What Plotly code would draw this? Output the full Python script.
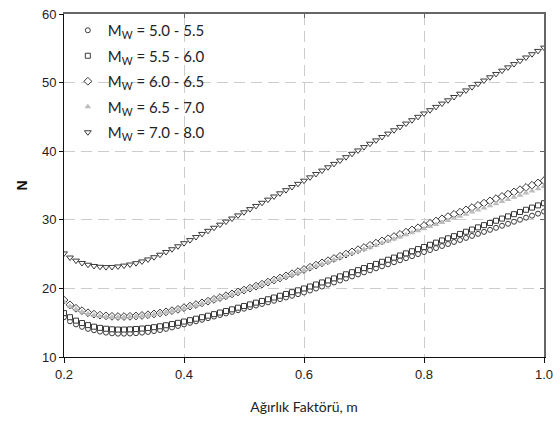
import plotly.graph_objects as go

m = [0.20, 0.21, 0.22, 0.23, 0.24, 0.25, 0.26, 0.27, 0.28, 0.29,
     0.30, 0.31, 0.32, 0.33, 0.34, 0.35, 0.36, 0.37, 0.38, 0.39,
     0.40, 0.41, 0.42, 0.43, 0.44, 0.45, 0.46, 0.47, 0.48, 0.49,
     0.50, 0.51, 0.52, 0.53, 0.54, 0.55, 0.56, 0.57, 0.58, 0.59,
     0.60, 0.61, 0.62, 0.63, 0.64, 0.65, 0.66, 0.67, 0.68, 0.69,
     0.70, 0.71, 0.72, 0.73, 0.74, 0.75, 0.76, 0.77, 0.78, 0.79,
     0.80, 0.81, 0.82, 0.83, 0.84, 0.85, 0.86, 0.87, 0.88, 0.89,
     0.90, 0.91, 0.92, 0.93, 0.94, 0.95, 0.96, 0.97, 0.98, 0.99,
     1.00]

n_50_55 = [15.8, 15.2, 14.75, 14.4, 14.1, 13.9, 13.7, 13.55, 13.45, 13.4,
           13.4, 13.42, 13.47, 13.55, 13.65, 13.78, 13.93, 14.1, 14.3, 14.52,
           14.75, 14.98, 15.2, 15.43, 15.66, 15.89, 16.12, 16.35, 16.58, 16.81,
           17.04, 17.27, 17.5, 17.73, 17.96, 18.2, 18.44, 18.68, 18.92, 19.16,
           19.4, 19.69, 19.98, 20.27, 20.56, 20.86, 21.15, 21.45, 21.74, 22.04,
           22.33, 22.63, 22.92, 23.22, 23.51, 23.81, 24.1, 24.4, 24.7, 25.0,
           25.3, 25.59, 25.88, 26.18, 26.47, 26.77, 27.06, 27.36, 27.65, 27.95,
           28.24, 28.54, 28.83, 29.13, 29.42, 29.72, 30.01, 30.31, 30.6, 30.9,
           31.2]

n_55_60 = [16.4, 15.8, 15.3, 14.95, 14.65, 14.42, 14.25, 14.12, 14.04, 14.0,
           14.0, 14.03, 14.08, 14.15, 14.24, 14.35, 14.48, 14.63, 14.8, 14.98,
           15.17, 15.37, 15.58, 15.8, 16.02, 16.25, 16.48, 16.71, 16.95, 17.19,
           17.43, 17.67, 17.92, 18.17, 18.42, 18.67, 18.93, 19.19, 19.45, 19.72,
           19.99, 20.28, 20.57, 20.87, 21.16, 21.46, 21.76, 22.06, 22.36, 22.66,
           22.96, 23.27, 23.57, 23.88, 24.18, 24.49, 24.8, 25.11, 25.42, 25.73,
           26.04, 26.36, 26.67, 26.99, 27.3, 27.62, 27.94, 28.26, 28.58, 28.9,
           29.22, 29.54, 29.86, 30.18, 30.5, 30.82, 31.14, 31.46, 31.78, 32.1,
           32.42]

n_60_65 = [18.3, 17.6, 17.1, 16.75, 16.45, 16.25, 16.1, 16.0, 15.93, 15.9,
           15.9, 15.93, 15.98, 16.06, 16.16, 16.28, 16.42, 16.58, 16.76, 16.95,
           17.2, 17.42, 17.65, 17.89, 18.14, 18.4, 18.66, 18.93, 19.2, 19.48,
           19.76, 20.04, 20.33, 20.62, 20.92, 21.22, 21.52, 21.83, 22.14, 22.45,
           22.76, 23.08, 23.4, 23.72, 24.04, 24.36, 24.68, 25.0, 25.32, 25.64,
           25.96, 26.28, 26.6, 26.92, 27.24, 27.56, 27.88, 28.2, 28.52, 28.84,
           29.16, 29.49, 29.82, 30.14, 30.47, 30.8, 31.12, 31.45, 31.78, 32.1,
           32.43, 32.76, 33.08, 33.41, 33.74, 34.06, 34.39, 34.72, 35.04, 35.37,
           35.7]

n_65_70 = [18.0, 17.4, 16.95, 16.6, 16.3, 16.1, 15.95, 15.86, 15.8, 15.78,
           15.79, 15.83, 15.89, 15.97, 16.08, 16.21, 16.36, 16.53, 16.71, 16.9,
           17.11, 17.33, 17.56, 17.8, 18.05, 18.31, 18.57, 18.84, 19.11, 19.39,
           19.67, 19.95, 20.24, 20.53, 20.82, 21.12, 21.42, 21.72, 22.02, 22.33,
           22.63, 22.94, 23.25, 23.56, 23.86, 24.17, 24.47, 24.78, 25.08, 25.39,
           25.69, 26.0, 26.3, 26.6, 26.9, 27.2, 27.5, 27.81, 28.11, 28.41,
           28.71, 29.01, 29.31, 29.61, 29.91, 30.21, 30.52, 30.82, 31.12, 31.43,
           31.73, 32.04, 32.35, 32.66, 32.97, 33.28, 33.59, 33.9, 34.21, 34.53,
           34.85]

n_70_80 = [25.1, 24.5, 24.05, 23.7, 23.45, 23.27, 23.15, 23.1, 23.12, 23.2,
           23.32, 23.48, 23.68, 23.93, 24.22, 24.55, 24.91, 25.3, 25.71, 26.14,
           26.59, 27.04, 27.49, 27.94, 28.39, 28.84, 29.29, 29.74, 30.19, 30.64,
           31.1, 31.56, 32.02, 32.48, 32.94, 33.4, 33.86, 34.32, 34.78, 35.24,
           35.7, 36.19, 36.68, 37.17, 37.66, 38.15, 38.64, 39.13, 39.62, 40.11,
           40.6, 41.09, 41.58, 42.07, 42.56, 43.05, 43.54, 44.03, 44.52, 45.01,
           45.5, 45.98, 46.46, 46.94, 47.42, 47.9, 48.38, 48.86, 49.34, 49.82,
           50.3, 50.78, 51.26, 51.74, 52.22, 52.7, 53.18, 53.66, 54.14, 54.62,
           55.1]

series_names = ["M<sub>W</sub> = 5.0 - 5.5", "M<sub>W</sub> = 5.5 - 6.0",
                "M<sub>W</sub> = 6.0 - 6.5", "M<sub>W</sub> = 6.5 - 7.0",
                "M<sub>W</sub> = 7.0 - 8.0"]
series_values = [n_50_55, n_55_60, n_60_65, n_65_70, n_70_80]

x_ticks = [0.2, 0.4, 0.6, 0.8, 1.0]
x_tick_labels = ["0.2", "0.4", "0.6", "0.8", "1.0"]
y_ticks = [10, 20, 30, 40, 50, 60]

styles = [
    dict(symbol="circle", size=5, color="white", line=dict(color="#3a3a3a", width=1)),
    dict(symbol="square", size=5, color="white", line=dict(color="#3a3a3a", width=1)),
    dict(symbol="diamond", size=6, color="white", line=dict(color="#3a3a3a", width=1)),
    dict(symbol="triangle-up", size=6, color="#bdbdbd", line=dict(color="#bdbdbd", width=0)),
    dict(symbol="triangle-down", size=6, color="white", line=dict(color="#3a3a3a", width=1)),
]

fig = go.Figure()
for i, (name, vals, st) in enumerate(zip(series_names, series_values, styles)):
    fig.add_trace(go.Scatter(x=m, y=vals, mode="markers", name=name,
                             legendgroup="g%d" % i, marker=st))

# invisible trace to host mirrored inside ticks on top/right
fig.add_trace(go.Scatter(x=m, y=n_50_55, mode="markers", xaxis="x2", yaxis="y2",
                         marker=dict(opacity=0), showlegend=False, hoverinfo="skip"))

tick_font = dict(family="Liberation Sans, Arial", size=13, color="#222222")

fig.update_layout(
    width=560, height=423,
    margin=dict(l=64, r=10, t=7, b=66),
    paper_bgcolor="white", plot_bgcolor="white",
    showlegend=True,
    legend=dict(x=0.008, y=1.0, xanchor="left", yanchor="top",
                bgcolor="rgba(0,0,0,0)", borderwidth=0,
                font=dict(family="Lato", size=15, color="#222222"),
                tracegroupgap=3, itemwidth=30),
    xaxis=dict(range=[0.2, 1.0], tickvals=x_ticks, ticktext=x_tick_labels,
               showgrid=True, gridcolor="#cccccc", griddash="11px,6px", gridwidth=1,
               zeroline=False, showline=True, linecolor="#111111", linewidth=1,
               ticks="outside", ticklen=5, tickcolor="#111111",
               tickfont=tick_font, ticklabeloverflow="allow",
               title=dict(text="Ağırlık Faktörü, m",
                          font=dict(family="Lato", size=14, color="#222222"),
                          standoff=21)),
    yaxis=dict(range=[10, 60], tickvals=y_ticks,
               showgrid=True, gridcolor="#cccccc", griddash="11px,6px", gridwidth=1,
               zeroline=False, showline=True, linecolor="#111111", linewidth=1,
               ticks="outside", ticklen=4, tickcolor="#111111",
               tickfont=tick_font, ticklabeloverflow="allow",
               title=dict(text="<b>N</b>",
                          font=dict(family="Liberation Sans, Arial", size=14, color="#111111"),
                          standoff=11)),
    xaxis2=dict(range=[0.2, 1.0], tickvals=x_ticks, overlaying="x", side="top",
                showgrid=False, zeroline=False, showline=True, linecolor="#666666",
                linewidth=2, ticks="inside", ticklen=4, tickcolor="#666666",
                showticklabels=False),
    yaxis2=dict(range=[10, 60], tickvals=y_ticks, overlaying="y", side="right",
                showgrid=False, zeroline=False, showline=True, linecolor="#666666",
                linewidth=2, ticks="inside", ticklen=4, tickcolor="#666666",
                showticklabels=False),
)

fig.write_html("out.html",
               config={"displayModeBar": False},
               post_script="document.body.style.margin='0';document.body.style.overflow='hidden';")
